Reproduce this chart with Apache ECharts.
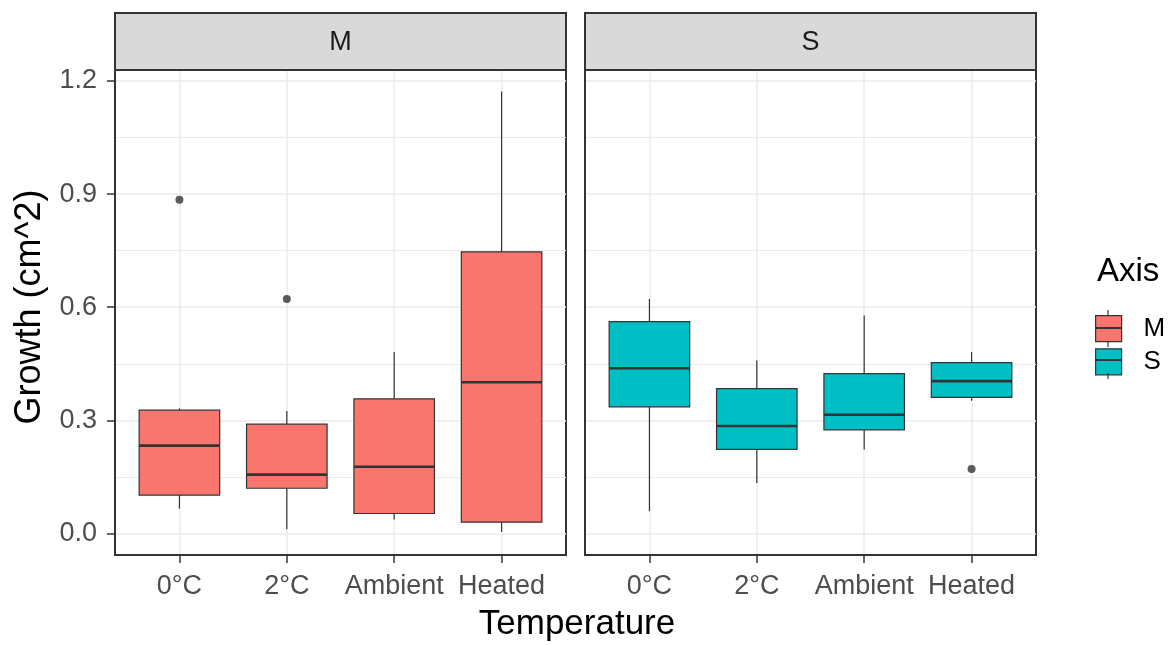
<!DOCTYPE html>
<html>
<head>
<meta charset="utf-8">
<script src="https://cdn.jsdelivr.net/npm/echarts@6/dist/echarts.min.js"></script>
<style>
html,body{margin:0;padding:0;background:#fff;}
#chart{width:1173px;height:645px;}
</style>
</head>
<body>
<div id="chart"></div>
<script>
// ---- data ----
const categories = ['0°C', '2°C', 'Ambient', 'Heated'];
const panels = ['M', 'S'];
const yTicks = [0, 0.3, 0.6, 0.9, 1.2];
const yMinor = [0.15, 0.45, 0.75, 1.05];
// [categoryIndex, lowerWhisker, Q1, median, Q3, upperWhisker]
const boxesM = [
  [0, 0.066, 0.102, 0.233, 0.327, 0.332],
  [1, 0.011, 0.120, 0.156, 0.290, 0.325],
  [2, 0.037, 0.053, 0.177, 0.357, 0.481],
  [3, 0.004, 0.030, 0.401, 0.747, 1.172]
];
const boxesS = [
  [0, 0.059, 0.336, 0.438, 0.562, 0.622],
  [1, 0.134, 0.223, 0.285, 0.384, 0.459],
  [2, 0.223, 0.275, 0.315, 0.424, 0.578],
  [3, 0.352, 0.361, 0.404, 0.453, 0.481]
];
const outliersM = [[0, 0.885], [1, 0.622]];
const outliersS = [[3, 0.171]];
const colorM = '#F8766D';
const colorS = '#00BFC4';

const FONT = '"Liberation Sans", Arial, sans-serif';
const DARK = '#333333';
const GRID = '#EBEBEB';

const chart = echarts.init(document.getElementById('chart'), null, {renderer: 'canvas'});

function renderBox(params, api) {
  const x = api.value(0);
  const pLow = api.coord([x, api.value(1)]);
  const pQ1 = api.coord([x, api.value(2)]);
  const pMed = api.coord([x, api.value(3)]);
  const pQ3 = api.coord([x, api.value(4)]);
  const pHigh = api.coord([x, api.value(5)]);
  const half = api.size([0.75, 0])[0] / 2;
  const cx = pMed[0];
  const fill = api.visual('color');
  return {
    type: 'group',
    children: [
      {type: 'line', shape: {x1: cx, y1: pQ3[1], x2: cx, y2: pHigh[1]}, style: {stroke: DARK, lineWidth: 1.2}},
      {type: 'line', shape: {x1: cx, y1: pQ1[1], x2: cx, y2: pLow[1]}, style: {stroke: DARK, lineWidth: 1.2}},
      {type: 'rect', shape: {x: cx - half, y: pQ3[1], width: half * 2, height: pQ1[1] - pQ3[1]},
        style: {fill: fill, stroke: DARK, lineWidth: 1.2}},
      {type: 'line', shape: {x1: cx - half, y1: pMed[1], x2: cx + half, y2: pMed[1]}, style: {stroke: DARK, lineWidth: 2.6}}
    ]
  };
}

const grids = [
  {left: 115, top: 70, width: 451, height: 485},
  {left: 585, top: 70, width: 451, height: 485}
];

function xAxis(gi) {
  return {
    type: 'value', gridIndex: gi, min: -0.6, max: 3.6,
    axisLine: {show: true, onZero: false, lineStyle: {color: DARK, width: 2}},
    axisTick: {show: true, customValues: [0, 1, 2, 3], length: 8, lineStyle: {color: DARK, width: 1.5}},
    axisLabel: {show: true, customValues: [0, 1, 2, 3], formatter: v => categories[Math.round(v)],
      fontSize: 27, color: '#4D4D4D', fontFamily: FONT, margin: 18},
    splitLine: {show: true, lineStyle: {color: GRID, width: 1.5}}
  };
}
function yAxisMajor(gi, showLabels) {
  return {
    type: 'value', gridIndex: gi, min: -0.057, max: 1.229, position: 'left',
    axisLine: {show: true, onZero: false, lineStyle: {color: DARK, width: 2}},
    axisTick: {show: showLabels, customValues: yTicks, length: 8, lineStyle: {color: DARK, width: 1.5}},
    axisLabel: {show: showLabels, customValues: yTicks, formatter: v => v.toFixed(1),
      fontSize: 27, color: '#4D4D4D', fontFamily: FONT, margin: 18},
    splitLine: {show: true, lineStyle: {color: GRID, width: 1.5}}
  };
}
function yAxisMinor(gi) {
  return {
    type: 'value', gridIndex: gi, min: -0.057, max: 1.229, position: 'right',
    axisLine: {show: false, onZero: false},
    axisTick: {show: false, customValues: yMinor},
    axisLabel: {show: false, customValues: yMinor},
    splitLine: {show: true, lineStyle: {color: GRID, width: 1}}
  };
}

const option = {
  backgroundColor: '#fff',
  animation: false,
  textStyle: {fontFamily: FONT},
  grid: grids.map(g => Object.assign({show: true, borderColor: DARK, borderWidth: 2, backgroundColor: '#fff', containLabel: false}, g)),
  xAxis: [xAxis(0), xAxis(1)],
  yAxis: [yAxisMajor(0, true), yAxisMinor(0), yAxisMajor(1, false), yAxisMinor(1)],
  legend: {
    data: panels,
    orient: 'vertical',
    left: 1095, top: 315,
    padding: 0,
    itemWidth: 26, itemHeight: 26, itemGap: 6,
    icon: 'rect',
    itemStyle: {borderColor: DARK, borderWidth: 1.2},
    textStyle: {fontSize: 26, lineHeight: 26, color: '#000', fontFamily: FONT, padding: [0, 0, 0, 17]},
    selectedMode: false,
    z: 5
  },
  series: [
    {name: 'M', type: 'custom', xAxisIndex: 0, yAxisIndex: 0, renderItem: renderBox,
      itemStyle: {color: colorM}, encode: {x: 0, y: [1, 2, 3, 4, 5]}, data: boxesM, z: 3},
    {name: 'S', type: 'custom', xAxisIndex: 1, yAxisIndex: 2, renderItem: renderBox,
      itemStyle: {color: colorS}, encode: {x: 0, y: [1, 2, 3, 4, 5]}, data: boxesS, z: 3},
    {name: 'M outliers', type: 'scatter', xAxisIndex: 0, yAxisIndex: 0, symbolSize: 8,
      itemStyle: {color: DARK}, data: outliersM, z: 4},
    {name: 'S outliers', type: 'scatter', xAxisIndex: 1, yAxisIndex: 2, symbolSize: 8,
      itemStyle: {color: DARK}, data: outliersS, z: 4}
  ],
  graphic: [
    // facet strips
    {type: 'rect', shape: {x: 115, y: 13, width: 451, height: 57}, style: {fill: '#D9D9D9', stroke: DARK, lineWidth: 2}, z: 10},
    {type: 'text', x: 340.5, y: 43, style: {text: panels[0], font: '27px ' + FONT, fill: '#1A1A1A', textAlign: 'center', textVerticalAlign: 'middle'}, z: 11},
    {type: 'rect', shape: {x: 585, y: 13, width: 451, height: 57}, style: {fill: '#D9D9D9', stroke: DARK, lineWidth: 2}, z: 10},
    {type: 'text', x: 810.5, y: 43, style: {text: panels[1], font: '27px ' + FONT, fill: '#1A1A1A', textAlign: 'center', textVerticalAlign: 'middle'}, z: 11},
    // axis titles
    {type: 'text', x: 577, y: 624, style: {text: 'Temperature', font: '35px ' + FONT, fill: '#000', textAlign: 'center', textVerticalAlign: 'middle'}, z: 11},
    {type: 'text', x: 30, y: 307, rotation: Math.PI / 2, style: {text: 'Growth (cm^2)', font: '36px ' + FONT, fill: '#000', textAlign: 'center', textVerticalAlign: 'middle'}, z: 11},
    // legend title
    {type: 'text', x: 1097, y: 272, style: {text: 'Axis', font: '33px ' + FONT, fill: '#000', textAlign: 'left', textVerticalAlign: 'middle'}, z: 11},
    // legend key whiskers / medians
    {type: 'line', shape: {x1: 1108, y1: 310, x2: 1108, y2: 315}, style: {stroke: DARK, lineWidth: 1.2}, z: 100, zlevel: 1},
    {type: 'line', shape: {x1: 1108, y1: 341, x2: 1108, y2: 347}, style: {stroke: DARK, lineWidth: 1.2}, z: 100, zlevel: 1},
    {type: 'line', shape: {x1: 1095, y1: 328, x2: 1121, y2: 328}, style: {stroke: DARK, lineWidth: 2}, z: 100, zlevel: 1},
    {type: 'line', shape: {x1: 1108, y1: 373, x2: 1108, y2: 379}, style: {stroke: DARK, lineWidth: 1.2}, z: 100, zlevel: 1},
    {type: 'line', shape: {x1: 1095, y1: 360, x2: 1121, y2: 360}, style: {stroke: DARK, lineWidth: 2}, z: 100, zlevel: 1}
  ]
};
chart.setOption(option);
</script>
</body>
</html>
